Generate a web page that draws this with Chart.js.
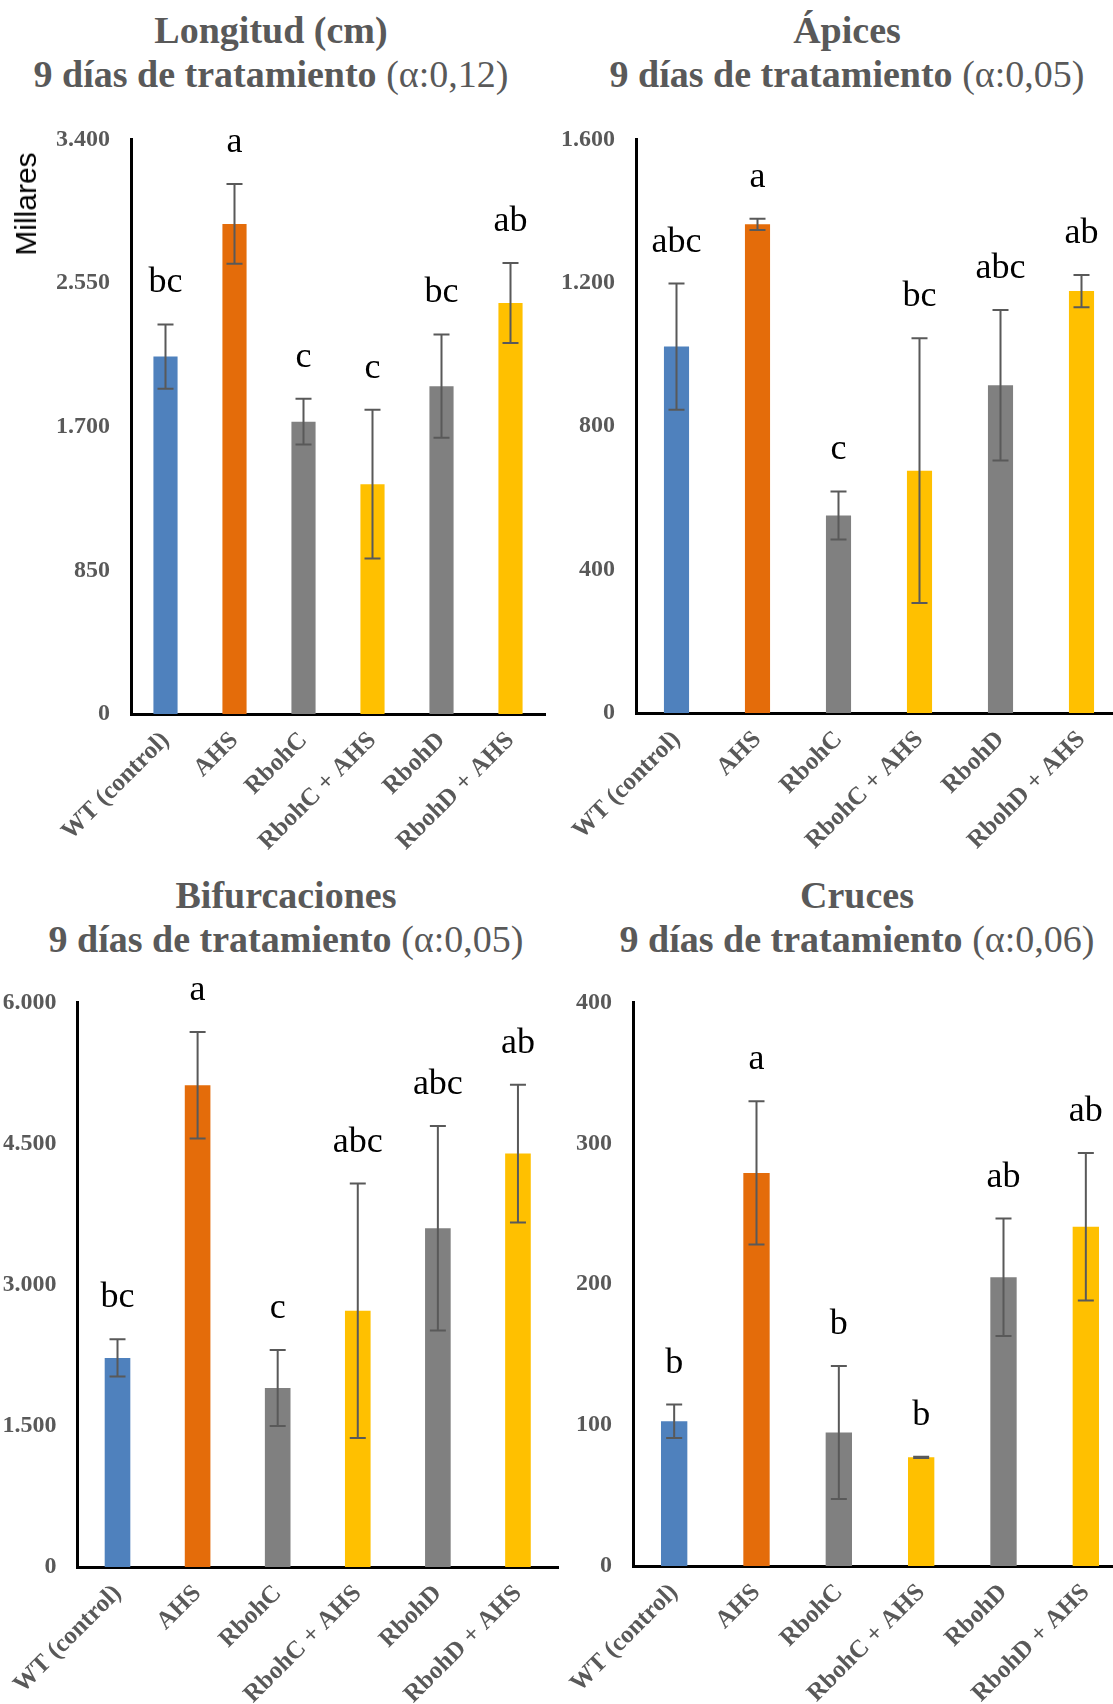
<!DOCTYPE html>
<html><head><meta charset="utf-8">
<script src="https://cdn.jsdelivr.net/npm/chart.js@4"></script>
<style>
html,body{margin:0;padding:0;background:#fff;}
body{width:1113px;height:1704px;overflow:hidden;position:relative;font-family:'Liberation Serif','Times New Roman',serif;}
.title{position:absolute;text-align:center;color:#595959;font-size:38px;line-height:44px;font-weight:bold;white-space:nowrap;transform:translateX(-50%);z-index:2;}
.title .n{font-weight:normal;}
canvas{position:absolute;}
.ylab{position:absolute;font-family:'Liberation Sans',Arial,sans-serif;font-size:30px;color:#000;transform:translate(-50%,-50%) rotate(-90deg);white-space:nowrap;z-index:2;}
</style></head>
<body>
<div class="title" style="left:271px;top:8px">Longitud (cm)<br>9 días de tratamiento <span class="n">(α:0,12)</span></div>
<div class="title" style="left:847px;top:8px">Ápices<br>9 días de tratamiento <span class="n">(α:0,05)</span></div>
<div class="title" style="left:286px;top:873px">Bifurcaciones<br>9 días de tratamiento <span class="n">(α:0,05)</span></div>
<div class="title" style="left:857px;top:873px">Cruces<br>9 días de tratamiento <span class="n">(α:0,06)</span></div>
<div class="ylab" style="left:26px;top:204px">Millares</div>

<canvas id="c1" width="556" height="766" style="left:0;top:104px"></canvas>
<canvas id="c2" width="580" height="766" style="left:556px;top:104px"></canvas>
<canvas id="c3" width="566" height="737" style="left:0;top:967px"></canvas>
<canvas id="c4" width="580" height="737" style="left:556px;top:967px"></canvas>

<script>
// ---- data ----
const categories = ['WT (control)', 'AHS', 'RbohC', 'RbohC + AHS', 'RbohD', 'RbohD + AHS'];

const longitud = [2115, 2900, 1730, 1360, 1940, 2432];
const longitudErr = [190, 236, 135, 440, 306, 236];
const longitudLetters = ['bc', 'a', 'c', 'c', 'bc', 'ab'];
const longitudTicks = [0, 850, 1700, 2550, 3400];

const apices = [1022, 1363, 551, 676, 914, 1177];
const apicesErr = [176, 16, 67, 369, 210, 45];
const apicesLetters = ['abc', 'a', 'c', 'bc', 'abc', 'ab'];
const apicesTicks = [0, 400, 800, 1200, 1600];

const bifurcaciones = [2222, 5120, 1902, 2723, 3600, 4393];
const bifurcacionesErr = [198, 566, 403, 1352, 1086, 732];
const bifurcacionesLetters = ['bc', 'a', 'c', 'abc', 'abc', 'ab'];
const bifurcacionesTicks = [0, 1500, 3000, 4500, 6000];

const cruces = [102.7, 279, 94.8, 77.1, 204.9, 240.8];
const crucesErr = [11.9, 50.8, 47.2, 0.4, 41.7, 52.4];
const crucesLetters = ['b', 'a', 'b', 'b', 'ab', 'ab'];
const crucesTicks = [0, 100, 200, 300, 400];

const barColors = ['#4F81BD', '#E46C0A', '#808080', '#FFC000', '#808080', '#FFC000'];

// ---- helpers ----
function fmt(v) {
  return String(Math.round(v)).replace(/\B(?=(\d{3})+(?!\d))/g, '.');
}

function errPlugin(errs, letters) {
  return {
    id: 'errs',
    afterDatasetsDraw(chart) {
      const ctx = chart.ctx, meta = chart.getDatasetMeta(0), y = chart.scales.y;
      const vals = chart.data.datasets[0].data;
      ctx.save();
      meta.data.forEach((bar, i) => {
        const x = bar.x;
        const top = y.getPixelForValue(vals[i] + errs[i]);
        const bot = y.getPixelForValue(vals[i] - errs[i]);
        ctx.strokeStyle = '#595959';
        ctx.lineWidth = 2;
        ctx.beginPath();
        ctx.moveTo(x, top); ctx.lineTo(x, bot);
        ctx.moveTo(x - 8, top); ctx.lineTo(x + 8, top);
        ctx.moveTo(x - 8, bot); ctx.lineTo(x + 8, bot);
        ctx.stroke();
        ctx.fillStyle = '#000';
        ctx.font = '36px "Liberation Serif"';
        ctx.textAlign = 'center';
        ctx.textBaseline = 'alphabetic';
        ctx.fillText(letters[i], x, top - 32);
      });
      ctx.restore();
    }
  };
}

function makeChart(id, values, errs, letters, ticks, geo) {
  const maxV = ticks[ticks.length - 1];
  const step = ticks[1] - ticks[0];
  new Chart(document.getElementById(id), {
    type: 'bar',
    data: {
      labels: categories,
      datasets: [{
        data: values,
        backgroundColor: barColors,
        categoryPercentage: 1,
        barPercentage: geo.bp
      }]
    },
    options: {
      responsive: false,
      animation: false,
      devicePixelRatio: 1,
      layout: { padding: { top: 20, right: geo.padRight, left: 0, bottom: 0 } },
      plugins: { legend: { display: false }, tooltip: { enabled: false } },
      scales: {
        x: {
          grid: { display: false, drawTicks: false },
          border: { color: '#000', width: 3 },
          ticks: {
            color: '#595959',
            font: { family: 'Liberation Serif', weight: 'bold', size: 25 },
            minRotation: 45, maxRotation: 45, autoSkip: false, padding: 12
          },
          afterFit(s) { s.height = geo.xH; }
        },
        y: {
          min: 0, max: maxV,
          grid: { display: false, drawTicks: false },
          border: { color: '#000', width: 3 },
          ticks: {
            stepSize: step,
            color: '#595959',
            font: { family: 'Liberation Serif', weight: 'bold', size: 24 },
            padding: 21,
            callback: v => fmt(v)
          },
          afterFit(s) { s.width = geo.yW; }
        }
      }
    },
    plugins: [errPlugin(errs, letters)]
  });
}

makeChart('c1', longitud, longitudErr, longitudLetters, longitudTicks,
  { bp: 0.35, padRight: 11, yW: 131, xH: 156 });
makeChart('c2', apices, apicesErr, apicesLetters, apicesTicks,
  { bp: 0.31, padRight: 14, yW: 80, xH: 157 });
makeChart('c3', bifurcaciones, bifurcacionesErr, bifurcacionesLetters, bifurcacionesTicks,
  { bp: 0.32, padRight: 8, yW: 74, xH: 137 });
makeChart('c4', cruces, crucesErr, crucesLetters, crucesTicks,
  { bp: 0.32, padRight: 9, yW: 77, xH: 138 });
</script>
</body></html>
